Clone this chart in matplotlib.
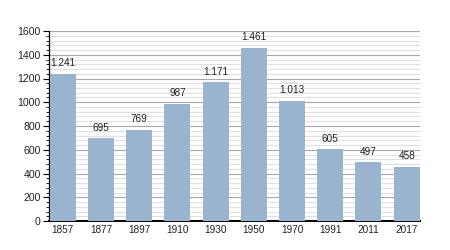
import numpy as np
import matplotlib
matplotlib.use('Agg')
import matplotlib.pyplot as plt
from matplotlib.ticker import MultipleLocator

years = ['1857', '1877', '1897', '1910', '1930', '1950', '1970', '1991', '2011', '2017']
einwohner = [1241, 695, 769, 987, 1171, 1461, 1013, 605, 497, 458]
labels = ['1.241', '695', '769', '987', '1.171', '1.461', '1.013', '605', '497', '458']

plt.rcParams['font.family'] = ['Liberation Sans', 'DejaVu Sans']

fig = plt.figure(figsize=(4.5, 2.5), dpi=100)
ax = fig.add_axes([49/450, 29/250, 371/450, 190/250])

x = np.arange(len(years))
ax.bar(x, einwohner, width=0.68, color='#9ab3cf', zorder=3)
for xi, v, t in zip(x, einwohner, labels):
    ax.text(xi, v + 45, t, ha='center', va='bottom', fontsize=7.2, color='#222222', zorder=4)

ax.set_ylim(0, 1600)
ax.set_xlim(-0.36, len(years) - 0.65)
ax.yaxis.set_major_locator(MultipleLocator(200))
ax.yaxis.set_minor_locator(MultipleLocator(40))
ax.grid(which='major', axis='y', color='#a8a8a8', linewidth=0.8, zorder=1)
ax.grid(which='minor', axis='y', color='#e0e0e0', linewidth=0.8, zorder=1)
ax.set_xticks(x)
ax.set_xticklabels(years)
ax.tick_params(axis='x', length=0, labelsize=7.2, pad=3, labelcolor='#222222')
ax.tick_params(axis='y', which='major', length=4, width=0.8, labelsize=7.6, pad=2, labelcolor='#222222')
ax.tick_params(axis='y', which='minor', length=2, width=0.6)

for s in ['top', 'right']:
    ax.spines[s].set_visible(False)
ax.spines['left'].set_linewidth(0.9)
ax.spines['bottom'].set_linewidth(1.4)

fig.savefig('out.png', dpi=100)
